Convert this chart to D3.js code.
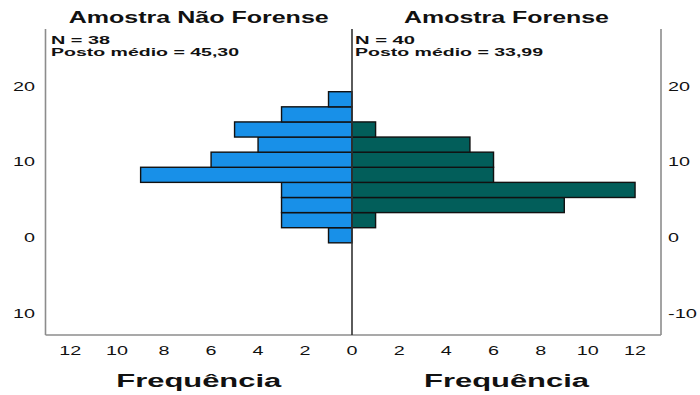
<!DOCTYPE html>
<html>
<head>
<meta charset="utf-8">
<script src="https://cdn.jsdelivr.net/npm/d3@7"></script>
<style>
  html, body { margin: 0; padding: 0; background: #fff; }
  svg { display: block; font-family: "Liberation Sans", Arial, sans-serif; }
</style>
</head>
<body>
<svg id="chart" width="700" height="395"></svg>
<script>
// ---- data ----
const binStarts = [-0.7, 1.3, 3.3, 5.3, 7.3, 9.3, 11.3, 13.3, 15.3, 17.3];
const binWidth = 2;
const naoForense = [1, 3, 3, 3, 9, 6, 4, 5, 3, 1];
const forense = [0, 1, 9, 12, 6, 6, 5, 1, 0, 0];
const panelTitles = ["Amostra Não Forense", "Amostra Forense"];
const statsLeft = ["N = 38", "Posto médio = 45,30"];
const statsRight = ["N = 40", "Posto médio = 33,99"];
const yTicks = [20, 10, 0, -10];
const yLabelsLeft = ["20", "10", "0", "10"];
const yLabelsRight = ["20", "10", "0", "-10"];
const xTicks = [0, 2, 4, 6, 8, 10, 12];
const xTitle = "Frequência";

// ---- layout ----
const svg = d3.select("#chart");
const cx = 352, pLeft = 45.5, pRight = 661, pTop = 29, pBottom = 335;
const y = d3.scaleLinear().domain([-12.9, 27.6]).range([pBottom, pTop]);
const xL = d3.scaleLinear().domain([0, 13.05]).range([cx, pLeft]);
const xR = d3.scaleLinear().domain([0, 13.1]).range([cx, pRight]);

const blue = "#1890E8", teal = "#025E5A";

// helper: stretched text
function sText(x, yy, str, size, len, anchor, weight) {
  return svg.append("text")
    .attr("x", x).attr("y", yy)
    .attr("font-size", size)
    .attr("font-weight", weight || "normal")
    .attr("text-anchor", anchor || "start")
    .attr("textLength", len)
    .attr("lengthAdjust", "spacingAndGlyphs")
    .attr("fill", "#111")
    .text(str);
}

const bins = binStarts.map((s, i) => ({ lo: s, hi: s + binWidth, l: naoForense[i], r: forense[i] }));

svg.append("g").selectAll("rect").data(bins.filter(d => d.l > 0)).join("rect")
  .attr("x", d => xL(d.l))
  .attr("y", d => y(d.hi))
  .attr("width", d => xL(0) - xL(d.l))
  .attr("height", d => y(d.lo) - y(d.hi))
  .attr("fill", blue)
  .attr("stroke", "#111")
  .attr("stroke-width", 1.4);

svg.append("g").selectAll("rect").data(bins.filter(d => d.r > 0)).join("rect")
  .attr("x", d => xR(0))
  .attr("y", d => y(d.hi))
  .attr("width", d => xR(d.r) - xR(0))
  .attr("height", d => y(d.lo) - y(d.hi))
  .attr("fill", teal)
  .attr("stroke", "#111")
  .attr("stroke-width", 1.4);

// frame lines
const frame = "#8c8c8c";
svg.append("line").attr("x1", pLeft).attr("x2", pLeft).attr("y1", pTop).attr("y2", pBottom)
  .attr("stroke", frame).attr("stroke-width", 1.6);
svg.append("line").attr("x1", pRight).attr("x2", pRight).attr("y1", pTop).attr("y2", pBottom)
  .attr("stroke", frame).attr("stroke-width", 1.6);
svg.append("line").attr("x1", pLeft).attr("x2", pRight).attr("y1", pBottom).attr("y2", pBottom)
  .attr("stroke", frame).attr("stroke-width", 1.6);
svg.append("line").attr("x1", cx).attr("x2", cx).attr("y1", pTop).attr("y2", pBottom)
  .attr("stroke", "#333").attr("stroke-width", 1.6);

// y tick labels
yTicks.forEach((t, i) => {
  sText(35, y(t) + 4.5, yLabelsLeft[i], 12, yLabelsLeft[i].length * 11, "end");
  sText(668, y(t) + 4.5, yLabelsRight[i], 12, yLabelsRight[i].length === 3 ? 29 : yLabelsRight[i].length * 11, "start");
});

// x tick labels
xTicks.forEach(t => {
  const s = String(t);
  const w = s.length * 11;
  sText(xL(t), 355, s, 12, w, "middle");
  if (t !== 0) sText(xR(t), 355, s, 12, w, "middle");
});

// titles
sText((pLeft + cx) / 2, 23, panelTitles[0], 17, 260, "middle", "bold");
sText((cx + pRight) / 2, 23, panelTitles[1], 17, 205, "middle", "bold");

// stats
sText(51, 43.5, statsLeft[0], 11.5, 59, "start", "bold");
sText(51, 56, statsLeft[1], 11.5, 188, "start", "bold");
sText(355, 43.5, statsRight[0], 11.5, 60, "start", "bold");
sText(355, 56, statsRight[1], 11.5, 188, "start", "bold");

// x titles
sText((pLeft + cx) / 2, 387, xTitle, 18, 165, "middle", "bold");
sText((cx + pRight) / 2, 387, xTitle, 18, 165, "middle", "bold");
</script>
</body>
</html>
